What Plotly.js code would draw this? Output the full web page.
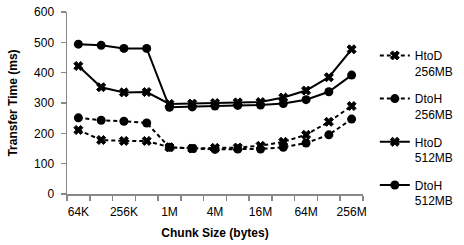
<!DOCTYPE html>
<html><head><meta charset="utf-8">
<script src="https://cdn.plot.ly/plotly-3.0.1.min.js"></script>
<style>html,body{margin:0;padding:0;background:#fff}#c{width:464px;height:245px}</style>
</head><body><div id="c"></div>
<script>
const categories = ["64K","128K","256K","512K","1M","2M","4M","8M","16M","32M","64M","128M","256M"];
const tickLabels = ["64K","","256K","","1M","","4M","","16M","","64M","","256M"];
const htod256 = [211,178,175,175,154,150,152,153,159,172,195,238,290];
const dtoh256 = [251,243,240,234,154,150,147,148,148,154,168,195,247];
const htod512 = [422,352,335,336,297,298,300,302,303,318,341,385,477];
const dtoh512 = [494,490,480,480,286,287,290,292,293,298,311,337,392];
const names = ["HtoD<br>256MB","DtoH<br>256MB","HtoD<br>512MB","DtoH<br>512MB"];

const font = "Liberation Sans, Arial, sans-serif";
function tr(y, name, dash, sym, g){
  return {x: categories, y: y, name: name, legendgroup: g, type: 'scatter', mode: 'lines+markers',
    line: {color: '#000', width: 2, dash: dash},
    marker: {symbol: sym, size: sym==='circle'?9:8, color: '#000', line:{color:'#000', width: sym==='circle'?0:1}}};
}
const data = [
  tr(htod256, names[0], '4px,3px', 'x', 'a'),
  tr(dtoh256, names[1], '4px,3px', 'circle', 'b'),
  tr(htod512, names[2], 'solid', 'x', 'c'),
  tr(dtoh512, names[3], 'solid', 'circle', 'd')
];
const layout = {
  width: 464, height: 245,
  margin: {l: 67, r: 101, t: 12, b: 51, autoexpand: false},
  paper_bgcolor: '#fff', plot_bgcolor: '#fff',
  font: {family: font, size: 12, color: '#000'},
  showlegend: true,
  legend: {x: 1.04, y: 0.84, xanchor: 'left', yanchor: 'top', valign: 'top',
    traceorder: 'grouped',
    font: {family: font, size: 12, color: '#000'}, tracegroupgap: 9, itemwidth: 30},
  xaxis: {type: 'category', tickmode: 'array', tickvals: categories, ticktext: tickLabels,
    tickangle: 0, tickfont: {size: 12}, ticklabelstandoff: 6,
    tickson: 'boundaries', ticks: 'outside', ticklen: 5, tickcolor: '#888', tickwidth: 1.5,
    showline: true, linecolor: '#888', linewidth: 1.5, showgrid: false, zeroline: false,
    range: [-0.5, 12.5],
    title: {text: '<b>Chunk Size (bytes)</b>', font: {family: font, size: 12}, standoff: 10}},
  yaxis: {range: [0, 600], dtick: 100, ticks: 'outside', ticklen: 5, tickcolor: '#888', tickwidth: 1.5,
    ticklabelstandoff: 4,
    showline: true, linecolor: '#888', linewidth: 1.5, showgrid: false, zeroline: false,
    title: {text: '<b>Transfer Time (ms)</b>', font: {family: font, size: 12}, standoff: 14}}
};
Plotly.newPlot('c', data, layout, {displayModeBar: false, staticPlot: true});
</script></body></html>
